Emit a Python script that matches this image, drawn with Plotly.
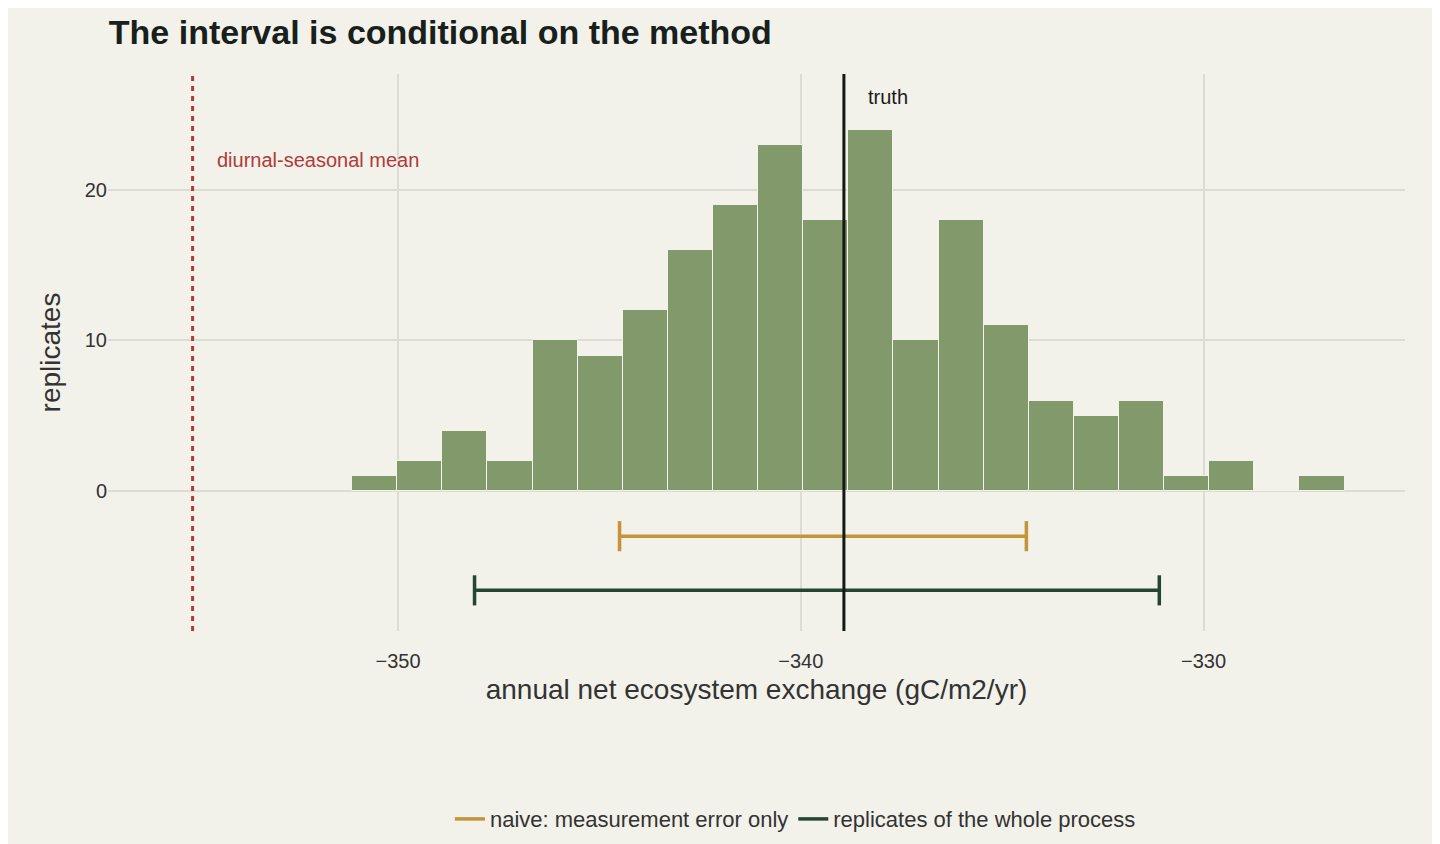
import plotly.graph_objects as go

bin_start = -351.14
bin_width = 1.12
counts = [1, 2, 4, 2, 10, 9, 12, 16, 19, 23, 18, 24, 10, 18, 11, 6, 5, 6, 1, 2, 0, 1]
centers = [bin_start + bin_width * (i + 0.5) for i in range(len(counts))]

truth = -338.93
seasonal_mean = -355.1
naive = (-344.5, -334.4, -3.0)
whole = (-348.1, -331.1, -6.6)

BG = "#F2F1EA"
fig = go.Figure()
fig.add_trace(go.Bar(x=centers, y=counts, width=bin_width, marker_color="#82996C",
                     marker_line=dict(color="#F2F1EA", width=1), showlegend=False))

for (lo, hi, y), col, name in [(naive, "#C4933A", "naive: measurement error only"),
                                (whole, "#224632", "replicates of the whole process")]:
    fig.add_trace(go.Scatter(x=[lo, hi], y=[y, y], mode="lines", line=dict(color=col, width=3.5), name=name))
    for xc in (lo, hi):
        fig.add_trace(go.Scatter(x=[xc, xc], y=[y - 1, y + 1], mode="lines",
                                 line=dict(color=col, width=3.5), showlegend=False, hoverinfo="skip"))

fig.add_shape(type="line", x0=truth, x1=truth, y0=-9.3, y1=27.7, line=dict(color="#111a14", width=3))
fig.add_shape(type="line", x0=seasonal_mean, x1=seasonal_mean, y0=-9.3, y1=27.7,
              line=dict(color="#B03A3A", width=3, dash="5px,5px"))
fig.add_annotation(x=truth + 0.55, y=26.2, text="truth", showarrow=False, xanchor="left",
                   font=dict(size=20, color="#1a1a1a"))
fig.add_annotation(x=seasonal_mean + 0.55, y=22.0, text="diurnal-seasonal mean", showarrow=False,
                   xanchor="left", font=dict(size=20, color="#B03A3A"))

fig.update_layout(
    width=1440, height=844, paper_bgcolor=BG, plot_bgcolor=BG,
    font=dict(family="Liberation Sans, Arial", color="#333333"),
    title=dict(text="<b>The interval is conditional on the method</b>", x=0.07, y=0.985,
               yanchor="top", font=dict(size=34, color="#17201a")),
    margin=dict(l=100, r=43, t=66, b=150),
    bargap=0,
    legend=dict(orientation="h", x=0.53, xanchor="center", y=-0.3, font=dict(size=22)),
    xaxis=dict(range=[-357.2, -325.0], tickvals=[-350, -340, -330], showgrid=True,
               gridcolor="#DDDCD4", gridwidth=2, zeroline=False, ticks="outside",
               tickcolor="rgba(0,0,0,0)", ticklen=12,
               tickfont=dict(size=20), title=dict(text="annual net ecosystem exchange (gC/m2/yr)",
                                                   font=dict(size=28), standoff=8)),
    yaxis=dict(range=[-9.3, 27.7], tickvals=[0, 10, 20], showgrid=True, gridcolor="#DDDCD4",
               gridwidth=2, zeroline=False, tickfont=dict(size=20),
               title=dict(text="replicates", font=dict(size=28))),
)
fig.write_html("out.html")
